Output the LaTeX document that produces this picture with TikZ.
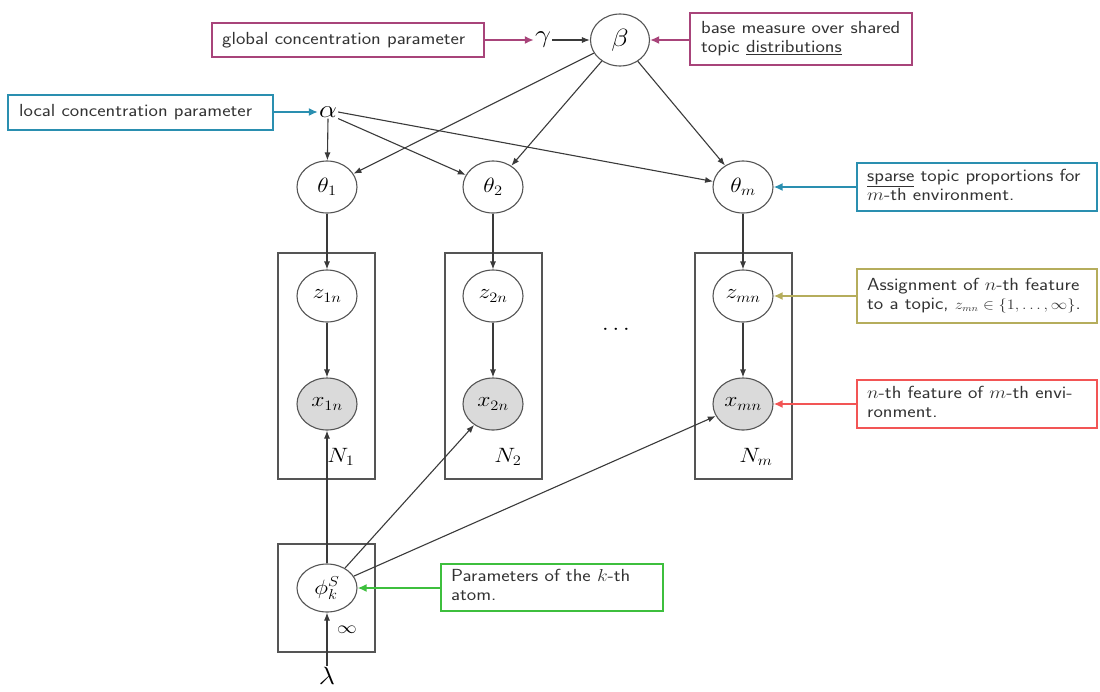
\documentclass[tikz,border=0pt]{standalone}
\usepackage{graphicx}
\usetikzlibrary{arrows.meta,calc,shapes.geometric}
\definecolor{gcpink}{HTML}{A8447A}
\definecolor{lcteal}{HTML}{2A8FB0}
\definecolor{asnolive}{HTML}{B5AD5C}
\definecolor{featred}{HTML}{F25555}
\definecolor{atomgreen}{HTML}{3DBF3D}
\definecolor{edgegray}{HTML}{3A3A3A}
\definecolor{nodegray}{HTML}{555555}
\definecolor{obsfill}{HTML}{DADADA}
\definecolor{labeltext}{HTML}{333333}
\newcommand{\hstretch}[1]{\scalebox{1.14}[1]{#1}}
\newcommand{\twolines}[2]{\hstretch{\begin{tabular}{@{}l@{}}#1\\#2\end{tabular}}}
\newcommand{\smallmath}[1]{{\fontsize{13.5}{19}\selectfont$#1$}}

\begin{document}
\begin{tikzpicture}[x=1pt,y=-1pt,
  edge/.style={draw=edgegray,line width=1.1pt,-{Latex[length=8pt,width=6pt]}},
  callout/.style={line width=1.8pt,-{Latex[length=9pt,width=8pt]}},
  var/.style={ellipse,draw=nodegray,line width=1.1pt,minimum width=60pt,minimum height=52pt,inner sep=0pt,font=\fontsize{22}{26}\selectfont},
  obs/.style={var,fill=obsfill},
  hyper/.style={inner sep=1pt,font=\fontsize{28}{32}\selectfont},
  plate/.style={rectangle,draw=nodegray,line width=1.3pt,inner sep=0pt,minimum width=97pt},
  platelab/.style={inner sep=0pt,font=\fontsize{22}{26}\selectfont},
  note/.style={rectangle,line width=2pt,inner sep=0pt},
  notetext/.style={anchor=west,inner sep=0pt,text=labeltext,font=\sffamily\fontsize{17.5}{19}\selectfont},
]
\useasboundingbox (0,0) rectangle (1100,691);

% plates
\node[plate,minimum height=226pt] (plate1) at (326.5,366) {};
\node[plate,minimum height=226pt] (plate2) at (493.5,366) {};
\node[plate,minimum height=226pt] (platem) at (743.5,366) {};
\node[plate,minimum height=108pt] (platek) at (326.5,598) {};
\node[platelab] (n1) at (341,457) {\hstretch{$N_1$}};
\node[platelab] (n2) at (508,457) {\hstretch{$N_2$}};
\node[platelab] (nm) at (756,457) {\hstretch{$N_m$}};
\node[inner sep=0pt,font=\fontsize{16}{18}\selectfont] (inf) at (347,630) {\hstretch{$\infty$}};

% hyperparameters
\node[hyper] (gamma) at (543,40) {\hstretch{$\gamma$}};
\node[var,minimum width=59pt,minimum height=52pt,font=\fontsize{27}{30}\selectfont] (beta) at (620,40) {\hstretch{$\beta$}};
\node[hyper] (alpha) at (328,112) {\hstretch{$\alpha$}};
\node[hyper] (lam) at (327,676) {\hstretch{$\lambda$}};

% topic proportions
\node[var] (th1) at (327,187) {\hstretch{$\theta_1$}};
\node[var] (th2) at (493,187) {\hstretch{$\theta_2$}};
\node[var] (thm) at (743,187) {\hstretch{$\theta_m$}};

% assignments and observations
\node[var] (z1) at (327,296) {\hstretch{$z_{1n}$}};
\node[var] (z2) at (493,296) {\hstretch{$z_{2n}$}};
\node[var] (zm) at (743,296) {\hstretch{$z_{mn}$}};
\node[obs] (x1) at (327,404) {\hstretch{$x_{1n}$}};
\node[obs] (x2) at (493,404) {\hstretch{$x_{2n}$}};
\node[obs] (xm) at (743,404) {\hstretch{$x_{mn}$}};
\node[font=\fontsize{20}{24}\selectfont] (dots) at (616,330) {\hstretch{$\cdots$}};

% atoms
\node[var,minimum height=48pt] (phi) at (327,588) {\hstretch{$\phi_k^S$}};

% edges
\draw[edge] (gamma) -- (beta);
\draw[edge] (beta) -- (th1);
\draw[edge] (beta) -- (th2);
\draw[edge] (beta) -- (thm);
\draw[edge] (alpha.south) -- (th1);
\draw[edge] (alpha.south east) -- (th2);
\draw[edge] (alpha.east) -- (thm);
\draw[edge] (th1) -- (z1);
\draw[edge] (th2) -- (z2);
\draw[edge] (thm) -- (zm);
\draw[edge] (z1) -- (x1);
\draw[edge] (z2) -- (x2);
\draw[edge] (zm) -- (xm);
\draw[edge] (phi) -- (x1);
\draw[edge] (phi) -- (x2);
\draw[edge] (phi) -- (xm);
\draw[edge] (lam) -- (phi);

% annotation boxes
\node[note,draw=gcpink,minimum width=272pt,minimum height=34pt] (gbox) at (348,40) {};
\node[notetext] (gtext) at ($(gbox.west)+(11,0)$) {\hstretch{global concentration parameter}};
\node[note,draw=gcpink,minimum width=222pt,minimum height=52pt] (bbox) at (801,39) {};
\node[notetext] (btext) at ($(bbox.west)+(12,0)$) {\twolines{base measure over shared}{topic \underline{distributions}}};
\node[note,draw=lcteal,minimum width=265pt,minimum height=35pt] (lbox) at (140.5,112) {};
\node[notetext] (ltext) at ($(lbox.west)+(12,0)$) {\hstretch{local concentration parameter}};
\node[note,draw=lcteal,minimum width=240pt,minimum height=48pt] (sbox) at (977,187) {};
\node[notetext] (stext) at ($(sbox.west)+(11,0)$) {\twolines{\underline{sparse} topic proportions for}{$m$-th environment.}};
\node[note,draw=asnolive,minimum width=240pt,minimum height=54pt] (ybox) at (977,296) {};
\node[notetext] (ytext) at ($(ybox.west)+(11,0)$) {\twolines{Assignment of $n$-th feature}{to a topic, \smallmath{z_{mn}\in\{1,\ldots,\infty\}}.}};
\node[note,draw=featred,minimum width=240pt,minimum height=48pt] (rbox) at (977,404) {};
\node[notetext] (rtext) at ($(rbox.west)+(11,0)$) {\twolines{$n$-th feature of $m$-th envi-}{ronment.}};
\node[note,draw=atomgreen,minimum width=222pt,minimum height=47pt] (gnbox) at (552,587) {};
\node[notetext] (gntext) at ($(gnbox.west)+(11,0)$) {\twolines{Parameters of the $k$-th}{atom.}};

% callout arrows, kept horizontal
\draw[callout,draw=gcpink] (gbox.east |- gamma.west) -- (gamma.west);
\draw[callout,draw=gcpink] (bbox.west |- beta.east) -- (beta.east);
\draw[callout,draw=lcteal] (lbox.east |- alpha.west) -- (alpha.west);
\draw[callout,draw=lcteal] (sbox.west |- thm.east) -- (thm.east);
\draw[callout,draw=asnolive] (ybox.west |- zm.east) -- (zm.east);
\draw[callout,draw=featred] (rbox.west |- xm.east) -- (xm.east);
\draw[callout,draw=atomgreen] (gnbox.west |- phi.east) -- (phi.east);
\end{tikzpicture}
\end{document}
